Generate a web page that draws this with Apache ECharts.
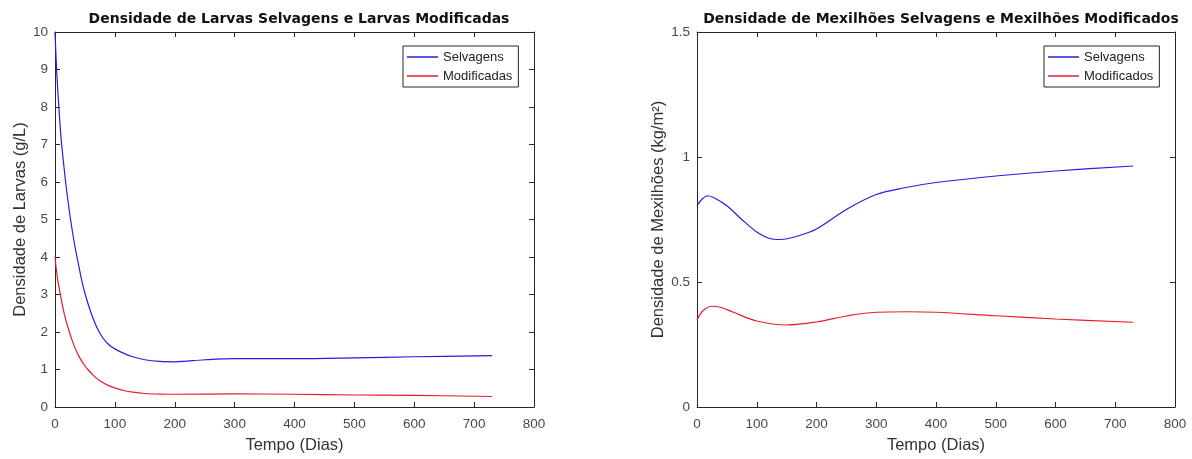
<!DOCTYPE html>
<html>
<head>
<meta charset="utf-8">
<script src="https://cdn.jsdelivr.net/npm/echarts@6/dist/echarts.min.js"></script>
<style>
  html, body { margin: 0; padding: 0; background: #fff; }
  #chart { width: 1192px; height: 459px; }
</style>
</head>
<body>
<div id="chart"></div>
<script>
// eixo x comum (dias)
const xTicks = [0, 100, 200, 300, 400, 500, 600, 700, 800]

// larvas selvagens
const diasLarvasSelv = [0, 3, 6, 10, 15, 20, 26, 32, 38, 45, 52, 60, 70, 80, 90, 100, 115, 130, 150, 175, 200, 250, 300, 400, 500, 600, 730]
const larvasSelv = [10, 8.9, 8.1, 7.2, 6.4, 5.7, 5.0, 4.4, 3.9, 3.35, 2.92, 2.52, 2.12, 1.84, 1.66, 1.55, 1.43, 1.34, 1.26, 1.215, 1.205, 1.26, 1.29, 1.29, 1.31, 1.34, 1.37]
// larvas modificadas
const diasLarvasMod = [0, 4, 9, 16, 24, 32, 40, 48, 56, 65, 75, 87, 100, 115, 130, 150, 175, 200, 300, 400, 500, 600, 730]
const larvasMod = [4, 3.45, 3, 2.45, 2, 1.63, 1.35, 1.14, 0.98, 0.83, 0.7, 0.59, 0.51, 0.44, 0.395, 0.36, 0.345, 0.34, 0.35, 0.34, 0.32, 0.31, 0.28]

// mexilhoes selvagens
const diasMexSelv = [0, 8, 18, 30, 50, 75, 100, 120, 140, 170, 200, 250, 300, 350, 400, 500, 600, 730]
const mexSelv = [0.805, 0.83, 0.845, 0.835, 0.805, 0.75, 0.70, 0.675, 0.67, 0.685, 0.712, 0.79, 0.85, 0.878, 0.898, 0.924, 0.944, 0.964]
// mexilhoes modificados
const diasMexMod = [0, 10, 25, 40, 60, 100, 150, 200, 250, 300, 350, 400, 500, 600, 730]
const mexMod = [0.348, 0.385, 0.403, 0.398, 0.38, 0.344, 0.328, 0.34, 0.364, 0.379, 0.381, 0.379, 0.365, 0.352, 0.339]

const font = "'Liberation Sans', Arial, sans-serif"
const titleFont = "'DejaVu Sans', sans-serif"
const axisColor = '#262626'

function zip(xs, ys) {
  return xs.map((x, i) => [x, ys[i]])
}

// eixo com ticks para dentro (estilo matlab)
function boxAxis(gridIndex, position, extra) {
  return Object.assign({
    type: 'value',
    gridIndex,
    position,
    axisLine: { show: true, onZero: false, lineStyle: { color: axisColor, width: 1 } },
    axisTick: { show: true, inside: true, length: 5, lineStyle: { color: axisColor } },
    axisLabel: { show: false },
    splitLine: { show: false }
  }, extra)
}

const labelStyle = { show: true, color: '#474747', fontSize: 13.5, fontFamily: font }
const nameStyle = { color: '#333', fontSize: 16.5, fontFamily: font }
const legendStyle = {
  orient: 'vertical', top: 46,
  icon: 'rect', itemWidth: 31, itemHeight: 1.5, itemGap: 5,
  padding: [4, 6, 4, 4],
  borderColor: axisColor, borderWidth: 1, backgroundColor: '#fff',
  textStyle: { fontSize: 13, color: '#222', fontFamily: font, lineHeight: 14 }
}

const myChart = echarts.init(document.getElementById('chart'))
const option = {
  animation: false,
  title: [
    {
      text: 'Densidade de Larvas Selvagens e Larvas Modificadas',
      left: 294, top: 7, textAlign: 'center',
      textStyle: { fontSize: 14, fontWeight: 'bold', color: '#111', fontFamily: titleFont }
    },
    {
      text: 'Densidade de Mexilhões Selvagens e Mexilhões Modificados',
      left: 936, top: 7, textAlign: 'center',
      textStyle: { fontSize: 14, fontWeight: 'bold', color: '#111', fontFamily: titleFont }
    }
  ],
  legend: [
    Object.assign({ data: ['Selvagens', 'Modificadas'], left: 403 }, legendStyle),
    Object.assign({ data: ['Selvagens', 'Modificados'], left: 1044 }, legendStyle)
  ],
  grid: [
    { left: 55, right: 658, top: 32, bottom: 50 },
    { left: 697, right: 17, top: 32, bottom: 50 }
  ],
  xAxis: [
    boxAxis(0, 'bottom', {
      min: 0, max: 800, interval: 100,
      axisLabel: Object.assign({ margin: 10, showMinLabel: true, showMaxLabel: true }, labelStyle),
      name: 'Tempo (Dias)', nameLocation: 'middle', nameGap: 30, nameTextStyle: nameStyle
    }),
    boxAxis(0, 'top', { min: 0, max: 800, interval: 100 }),
    boxAxis(1, 'bottom', {
      min: 0, max: 800, interval: 100,
      axisLabel: Object.assign({ margin: 10, showMinLabel: true, showMaxLabel: true }, labelStyle),
      name: 'Tempo (Dias)', nameLocation: 'middle', nameGap: 30, nameTextStyle: nameStyle
    }),
    boxAxis(1, 'top', { min: 0, max: 800, interval: 100 })
  ],
  yAxis: [
    boxAxis(0, 'left', {
      min: 0, max: 10, interval: 1,
      axisLabel: Object.assign({ margin: 7, showMinLabel: true, showMaxLabel: true }, labelStyle),
      name: 'Densidade de Larvas (g/L)', nameLocation: 'middle', nameGap: 26, nameTextStyle: nameStyle
    }),
    boxAxis(0, 'right', { min: 0, max: 10, interval: 1 }),
    boxAxis(1, 'left', {
      min: 0, max: 1.5, interval: 0.5,
      axisLabel: Object.assign({ margin: 7, showMinLabel: true, showMaxLabel: true }, labelStyle),
      name: 'Densidade de Mexilhões (kg/m²)', nameLocation: 'middle', nameGap: 28, nameTextStyle: nameStyle
    }),
    boxAxis(1, 'right', { min: 0, max: 1.5, interval: 0.5 })
  ],
  series: [
    {
      name: 'Selvagens', type: 'line', xAxisIndex: 0, yAxisIndex: 0,
      data: zip(diasLarvasSelv, larvasSelv), showSymbol: false, symbol: 'none', smooth: 0.35,
      itemStyle: { color: '#2020e0' }, lineStyle: { color: '#2020e0', width: 1.2 }
    },
    {
      name: 'Modificadas', type: 'line', xAxisIndex: 0, yAxisIndex: 0,
      data: zip(diasLarvasMod, larvasMod), showSymbol: false, symbol: 'none', smooth: 0.35,
      itemStyle: { color: '#e81c2c' }, lineStyle: { color: '#e81c2c', width: 1.2 }
    },
    {
      name: 'Selvagens', type: 'line', xAxisIndex: 2, yAxisIndex: 2,
      data: zip(diasMexSelv, mexSelv), showSymbol: false, symbol: 'none', smooth: 0.35,
      itemStyle: { color: '#2020e0' }, lineStyle: { color: '#2020e0', width: 1.2 }
    },
    {
      name: 'Modificados', type: 'line', xAxisIndex: 2, yAxisIndex: 2,
      data: zip(diasMexMod, mexMod), showSymbol: false, symbol: 'none', smooth: 0.35,
      itemStyle: { color: '#e81c2c' }, lineStyle: { color: '#e81c2c', width: 1.2 }
    }
  ]
}
option && myChart.setOption(option)
</script>
</body>
</html>
